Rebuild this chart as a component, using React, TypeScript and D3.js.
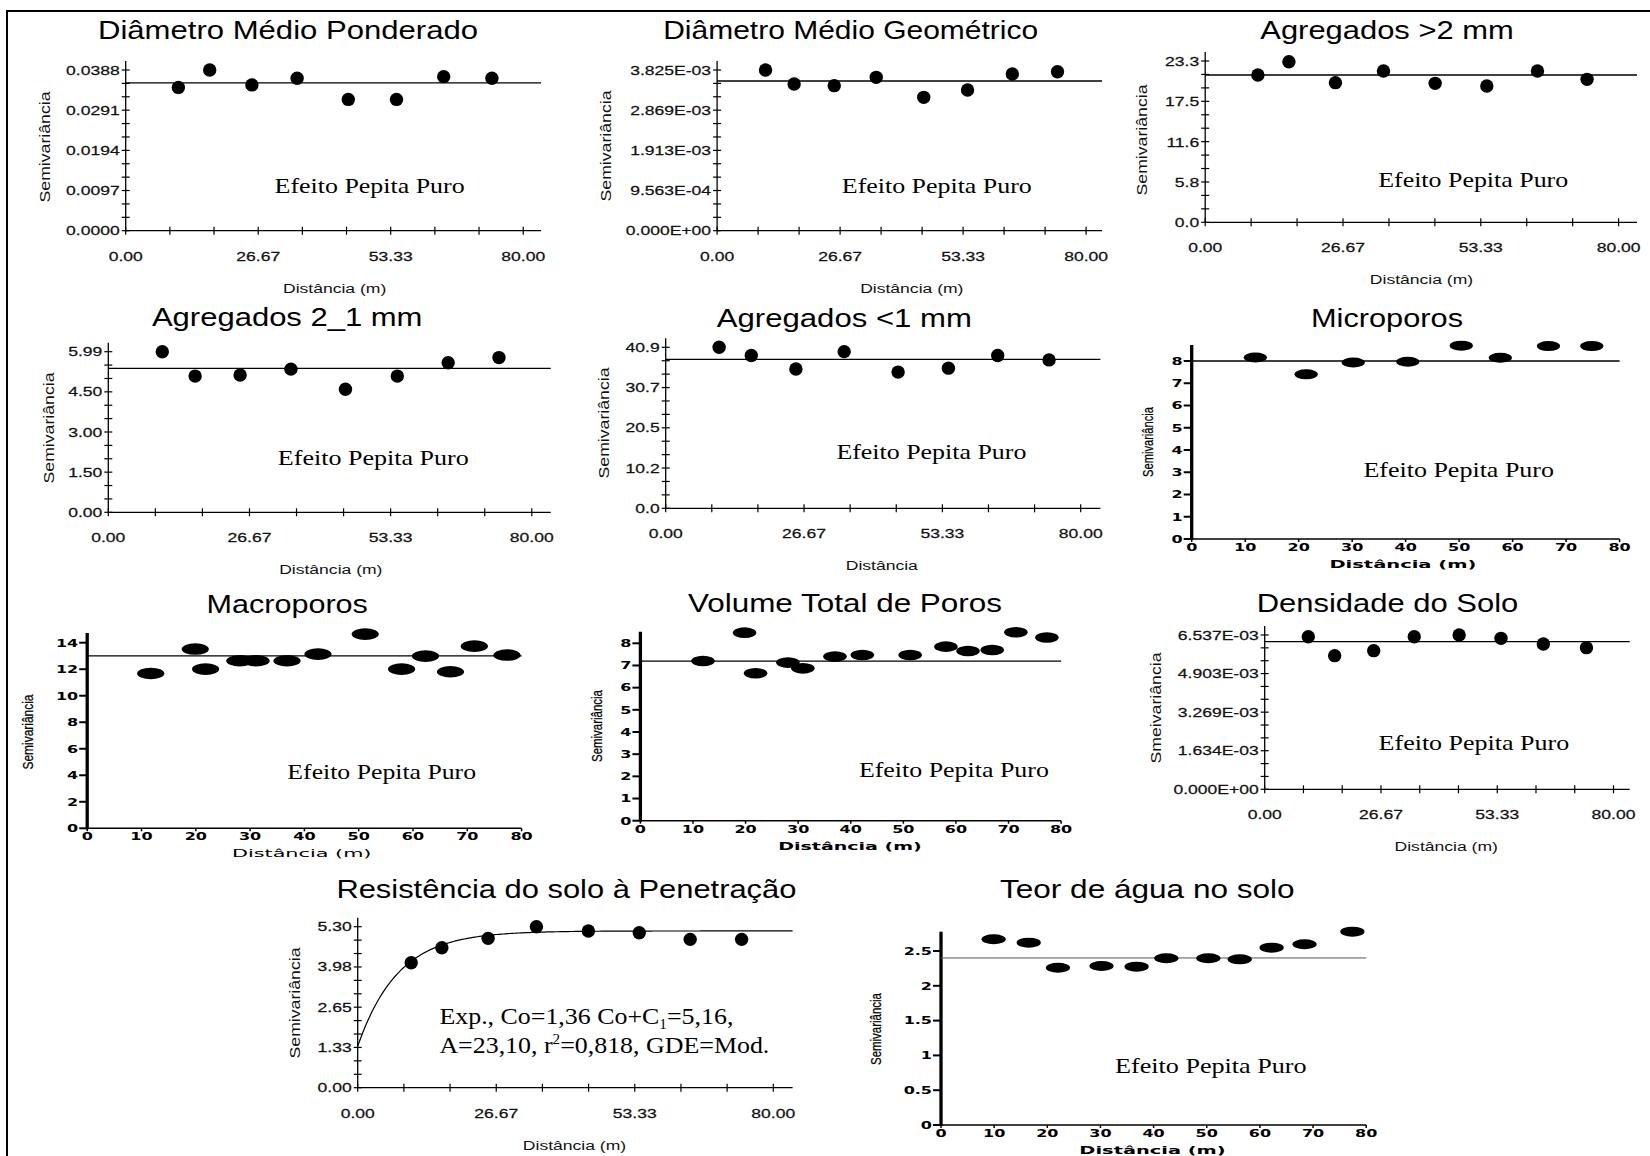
import React from "react";
import * as d3 from "d3";

// ---- data (lag in m, semivariance) ----
const xLabelsGs = ["0.00", "26.67", "53.33", "80.00"];
const xTicksPrism = [0, 10, 20, 30, 40, 50, 60, 70, 80];

const dmpLag = [10.6, 16.9, 25.4, 34.5, 44.8, 54.5, 64.0, 73.7];
const dmpGamma = [0.0346, 0.0388, 0.0352, 0.0368, 0.0317, 0.0317, 0.0372, 0.0368];
const dmpSill = 0.0357;
const dmpTicks = ["0.0000", "0.0097", "0.0194", "0.0291", "0.0388"];

const dmgLag = [10.5, 16.7, 25.4, 34.5, 44.8, 54.3, 64.0, 73.8];
const dmgGamma = [3.825e-3, 3.492e-3, 3.452e-3, 3.65e-3, 3.174e-3, 3.349e-3, 3.73e-3, 3.785e-3];
const dmgSill = 3.563e-3;
const dmgTicks = ["0.000E+00", "9.563E-04", "1.913E-03", "2.869E-03", "3.825E-03"];

const ag2Lag = [10.2, 16.2, 25.2, 34.5, 44.5, 54.5, 64.3, 73.9];
const ag2Gamma = [21.28, 23.2, 20.17, 21.86, 20.07, 19.69, 21.86, 20.65];
const ag2Sill = 21.28;
const ag2Ticks = ["0.0", "5.8", "11.6", "17.5", "23.3"];

const ag21Lag = [10.2, 16.4, 24.9, 34.5, 44.8, 54.6, 64.2, 73.8];
const ag21Gamma = [5.99, 5.08, 5.12, 5.34, 4.59, 5.08, 5.58, 5.77];
const ag21Sill = 5.37;
const ag21Ticks = ["0.00", "1.50", "3.00", "4.50", "5.99"];

const ag1Lag = [10.3, 16.5, 25.1, 34.4, 44.8, 54.5, 64.0, 73.9];
const ag1Gamma = [40.9, 38.8, 35.4, 39.8, 34.6, 35.6, 38.8, 37.7];
const ag1Sill = 37.85;
const ag1Ticks = ["0.0", "10.2", "20.5", "30.7", "40.9"];

const microLag = [11.9, 21.4, 30.2, 40.4, 50.4, 57.7, 66.7, 74.8];
const microGamma = [8.16, 7.4, 7.93, 7.97, 8.69, 8.15, 8.67, 8.67];
const microSill = 8.0;
const microTicks = ["0", "1", "2", "3", "4", "5", "6", "7", "8"];

const macroLag = [11.7, 19.9, 21.8, 28.1, 31.1, 36.8, 42.5, 51.2, 57.9, 62.3, 66.9, 71.3, 77.3];
const macroGamma = [11.68, 13.52, 12.01, 12.64, 12.64, 12.64, 13.14, 14.65, 12.01, 12.99, 11.81, 13.74, 13.07];
const macroSill = 13.0;
const macroTicks = ["0", "2", "4", "6", "8", "10", "12", "14"];

const vtpLag = [11.9, 19.8, 21.9, 28.05, 30.9, 37.0, 42.2, 51.3, 58.1, 62.3, 66.9, 71.4, 77.3];
const vtpGamma = [7.2, 8.48, 6.65, 7.13, 6.87, 7.4, 7.47, 7.47, 7.85, 7.65, 7.7, 8.5, 8.26];
const vtpSill = 7.2;
const vtpTicks = ["0", "1", "2", "3", "4", "5", "6", "7", "8"];

const dsLag = [10.0, 16.05, 25.0, 34.3, 44.6, 54.2, 63.9, 73.8];
const dsGamma = [6.466e-3, 5.662e-3, 5.873e-3, 6.466e-3, 6.537e-3, 6.396e-3, 6.156e-3, 6.001e-3];
const dsSill = 6.255e-3;
const dsTicks = ["0.000E+00", "1.634E-03", "3.269E-03", "4.903E-03", "6.537E-03"];

const rpLag = [10.3, 16.2, 25.1, 34.4, 44.4, 54.2, 64.0, 73.9];
const rpGamma = [4.115, 4.609, 4.916, 5.3, 5.157, 5.102, 4.883, 4.883];
const rpModel = { nugget: 1.36, sill: 5.16, range: 23.1 };
const rpTicks = ["0.00", "1.33", "2.65", "3.98", "5.30"];

const uLag = [9.9, 16.5, 22.0, 30.2, 36.8, 42.4, 50.3, 56.2, 62.2, 68.4, 77.4];
const uGamma = [2.668, 2.62, 2.26, 2.284, 2.275, 2.395, 2.395, 2.38, 2.548, 2.596, 2.778];
const uSill = 2.4;
const uTicks = ["0", "0.5", "1", "1.5", "2", "2.5"];

const SANS = "'Liberation Sans', Arial, sans-serif";
const SERIF = "'Liberation Serif', 'Times New Roman', serif";
const WIDE = "'DejaVu Sans', Verdana, sans-serif";

function T({ x, y, children, size = 13, sx = 1, anchor = "middle", family = SANS, weight = "normal", rot = 0, len, baseline, fill = "#000", stroke }: any) {
  return (
    <text
      transform={`translate(${x},${y}) rotate(${rot}) scale(${sx},1)`}
      fontSize={size}
      fontFamily={family}
      fontWeight={weight}
      textAnchor={anchor}
      textLength={len}
      lengthAdjust={len ? "spacingAndGlyphs" : undefined}
      dominantBaseline={baseline}
      fill={fill}
      stroke={stroke}
      strokeWidth={stroke ? 0.25 : undefined}
    >
      {children}
    </text>
  );
}

// GS+ style semivariogram
function GsPanel({ c }: any) {
  const x = d3.scaleLinear().domain([0, 80]).range([c.x0, c.x80]);
  const yMax = +c.ticks[c.ticks.length - 1];
  const y = d3.scaleLinear().domain([0, yMax]).range([c.y0, c.yTop]);
  const yMinor = d3.range(0, 13).map((i) => (yMax * i) / 12);
  const xMinor = d3.range(0, 10).map((i) => (80 * i) / 9);
  const hEnd = x.invert(c.xEnd);
  let curve = null;
  if (c.model) {
    const m = c.model;
    const hs = d3.range(0, 201).map((i) => (hEnd * i) / 200);
    const line = d3
      .line<number>()
      .x((h) => x(h))
      .y((h) => y(m.nugget + (m.sill - m.nugget) * (1 - Math.exp((-3 * h) / m.range))));
    curve = <path d={line(hs) || ""} fill="none" stroke="#000" strokeWidth={1.2} />;
  }
  return (
    <g>
      <T x={c.titleX} y={c.titleY} size={25} len={c.titleW}>{c.title}</T>
      <line x1={c.x0} x2={c.x0} y1={c.y0} y2={c.yTop - 9} stroke="#000" strokeWidth={1.3} />
      <line x1={c.x0} x2={c.xEnd} y1={c.y0} y2={c.y0} stroke="#000" strokeWidth={1.3} />
      {yMinor.map((v, i) => (
        <line key={"ym" + i} x1={c.x0 - 4} x2={c.x0 + 4} y1={y(v)} y2={y(v)} stroke="#000" strokeWidth={1.2} />
      ))}
      {xMinor.map((v, i) => (
        <line key={"xm" + i} x1={x(v)} x2={x(v)} y1={c.y0 - 4} y2={c.y0 + 4} stroke="#000" strokeWidth={1.2} />
      ))}
      {c.ticks.map((t: string) => (
        <T key={t} x={c.x0 - 6} y={y(+t) + 4.7} anchor="end" size={13.5} sx={1.3} fill="#111" stroke="#111">{t}</T>
      ))}
      {xLabelsGs.map((t) => (
        <T key={t} x={x(+t)} y={c.y0 + 30} size={13.5} sx={1.3} fill="#111" stroke="#111">{t}</T>
      ))}
      <T x={c.ylabX} y={c.ylabY} rot={-90} baseline="central" len={111} size={14} fill="#111">{c.ylab || "Semivariância"}</T>
      <T x={c.xlabX} y={c.y0 + 62} size={13.5} sx={1.3} fill="#111">{c.xlab || "Distância (m)"}</T>
      {c.sill !== undefined && (
        <line x1={c.x0} x2={c.xEnd} y1={y(c.sill)} y2={y(c.sill)} stroke="#000" strokeWidth={1.3} />
      )}
      {curve}
      {c.lag.map((h: number, i: number) => (
        <circle key={i} cx={x(h)} cy={y(c.gamma[i])} r={6.7} fill="#000" />
      ))}
      {c.efW && (
        <T x={c.efX} y={c.efY} size={22} family={SERIF} len={c.efW}>Efeito Pepita Puro</T>
      )}
    </g>
  );
}

// Prism style semivariogram
function PrismPanel({ c }: any) {
  const x = d3.scaleLinear().domain([0, 80]).range([c.x0, c.x80]);
  const top = +c.ticks[c.ticks.length - 1];
  const y = d3.scaleLinear().domain([0, top]).range([c.y0, c.yRef]);
  return (
    <g>
      <T x={c.titleX} y={c.titleY} size={26} len={c.titleW}>{c.title}</T>
      <line x1={c.x0} x2={c.x80} y1={c.y0} y2={c.y0} stroke="#000" strokeWidth={1.6} />
      {xTicksPrism.map((v) => (
        <line key={"xt" + v} x1={x(v)} x2={x(v)} y1={c.y0} y2={c.y0 + 3} stroke="#000" strokeWidth={1.5} />
      ))}
      {c.ticks.map((t: string) => (
        <g key={"yt" + t}>
          <line x1={c.x0 - 8} x2={c.x0} y1={y(+t)} y2={y(+t)} stroke="#000" strokeWidth={2} />
          <T x={c.x0 - 9} y={y(+t) + 3.8} anchor="end" size={10} sx={1.6} weight="bold" family={WIDE}>{t}</T>
        </g>
      ))}
      <line x1={c.x0} x2={c.x0} y1={c.y0 + 1} y2={c.axisTop} stroke="#000" strokeWidth={3.3} />
      {xTicksPrism.map((v) => (
        <T key={"xl" + v} x={x(v)} y={c.y0 + 12} size={10} sx={1.6} weight="bold" family={WIDE}>{String(v)}</T>
      ))}
      <T x={c.ylabX} y={c.ylabY} rot={-90} baseline="central" len={c.ylabW} size={15} stroke="#000">Semivariância</T>
      <T x={c.xlabX} y={c.y0 + 29} size={11} weight={c.xlabBold === false ? "normal" : "bold"} family={WIDE} len={c.xlabW}>Distância (m)</T>
      <line x1={c.x0} x2={c.x80} y1={y(c.sill)} y2={y(c.sill)} stroke={c.sillColor || "#000"} strokeWidth={c.sillW || 1.3} />
      {c.lag.map((h: number, i: number) => (
        <ellipse key={i} cx={x(h)} cy={y(c.gamma[i])} rx={c.rx} ry={c.ry} fill="#000" />
      ))}
      <T x={c.efX} y={c.efY} size={22} family={SERIF} len={c.efW}>Efeito Pepita Puro</T>
    </g>
  );
}

const gsPanels = [
  { title: "Diâmetro Médio Ponderado", titleX: 288, titleY: 38.5, titleW: 380, x0: 125.7, x80: 523.2, xEnd: 541, yTop: 70, y0: 230.7, ticks: dmpTicks, lag: dmpLag, gamma: dmpGamma, sill: dmpSill, efX: 369.6, efY: 193, efW: 190, ylabX: 44.6, ylabY: 147, xlabX: 334.6 },
  { title: "Diâmetro Médio Geométrico", titleX: 850.7, titleY: 38.5, titleW: 375, x0: 717.1, x80: 1086.1, xEnd: 1102, yTop: 70, y0: 230.7, ticks: dmgTicks, lag: dmgLag, gamma: dmgGamma, sill: dmgSill, efX: 936.8, efY: 193, efW: 190, ylabX: 605.7, ylabY: 146, xlabX: 911.8 },
  { title: "Agregados >2 mm", titleX: 1387, titleY: 39, titleW: 253.5, x0: 1205.2, x80: 1618.6, xEnd: 1637, yTop: 61, y0: 222.3, ticks: ag2Ticks, lag: ag2Lag, gamma: ag2Gamma, sill: ag2Sill, efX: 1473.2, efY: 187, efW: 190, ylabX: 1142, ylabY: 140, xlabX: 1421.5 },
  { title: "Agregados 2_1 mm", titleX: 287.2, titleY: 325.5, titleW: 270.5, x0: 108.3, x80: 531.8, xEnd: 550.7, yTop: 351.7, y0: 512.3, ticks: ag21Ticks, lag: ag21Lag, gamma: ag21Gamma, sill: ag21Sill, efX: 373.3, efY: 465, efW: 191, ylabX: 49.1, ylabY: 428, xlabX: 330.8 },
  { title: "Agregados <1 mm", titleX: 844.3, titleY: 327, titleW: 255, x0: 665.7, x80: 1080.7, xEnd: 1100.4, yTop: 347.3, y0: 508.3, ticks: ag1Ticks, lag: ag1Lag, gamma: ag1Gamma, sill: ag1Sill, efX: 931.4, efY: 459, efW: 190, ylabX: 603.9, ylabY: 423, xlabX: 881.8, xlab: "Distância" },
  { title: "Densidade do Solo", titleX: 1387.5, titleY: 612, titleW: 261.6, x0: 1264.7, x80: 1613.5, xEnd: 1629.7, yTop: 635, y0: 789.3, ticks: dsTicks, lag: dsLag, gamma: dsGamma, sill: dsSill, efX: 1473.9, efY: 750, efW: 190.6, ylabX: 1155.5, ylabY: 708, ylab: "Smeivariância", xlabX: 1446.2 },
  { title: "Resistência do solo à Penetração", titleX: 566.4, titleY: 898, titleW: 460, x0: 357.7, x80: 773.3, xEnd: 792.6, yTop: 926.7, y0: 1087.7, ticks: rpTicks, lag: rpLag, gamma: rpGamma, model: rpModel, ylabX: 294.6, ylabY: 1003, xlabX: 574.5 },
];

const prismPanels = [
  { title: "Microporos", titleX: 1387, titleY: 327, titleW: 152, x0: 1191.7, x80: 1619.6, y0: 539, yRef: 361, axisTop: 345, ticks: microTicks, lag: microLag, gamma: microGamma, sill: microSill, efX: 1458.7, efY: 477, efW: 190.6, ylabX: 1147, ylabY: 442, ylabW: 70, xlabX: 1402.9, xlabW: 147, rx: 11.7, ry: 5 },
  { title: "Macroporos", titleX: 287.2, titleY: 613, titleW: 161.4, x0: 87.2, x80: 521.6, y0: 828.3, yRef: 642.7, axisTop: 633, ticks: macroTicks, lag: macroLag, gamma: macroGamma, sill: macroSill, efX: 381.7, efY: 779, efW: 188.7, ylabX: 27.3, ylabY: 732, ylabW: 75, xlabX: 301.7, xlabW: 139.6, xlabBold: false, rx: 13.6, ry: 5.8 },
  { title: "Volume Total de Poros", titleX: 845, titleY: 612, titleW: 314, x0: 640.4, x80: 1061.1, y0: 820.7, yRef: 643.3, axisTop: 631.7, ticks: vtpTicks, lag: vtpLag, gamma: vtpGamma, sill: vtpSill, efX: 953.9, efY: 777, efW: 190, ylabX: 596.8, ylabY: 726, ylabW: 72, xlabX: 850, xlabW: 143.6, rx: 11.8, ry: 5.3 },
  { title: "Teor de água no solo", titleX: 1147.3, titleY: 898, titleW: 294.6, x0: 941, x80: 1366.2, y0: 1125, yRef: 951, axisTop: 931.7, ticks: uTicks, lag: uLag, gamma: uGamma, sill: uSill, efX: 1210.8, efY: 1073, efW: 191.5, ylabX: 875, ylabY: 1029, ylabW: 72, xlabX: 1152.5, xlabW: 146.3, rx: 12.1, ry: 5, sillColor: "#555", sillW: 1 },
];

export default function App() {
  return (
    <svg
      width={1650}
      height={1156}
      style={{ position: "absolute", left: 0, top: 0, display: "block", background: "#fff" }}
    >
      <rect x={0} y={0} width={1650} height={1156} fill="#fff" />
      <line x1={7} x2={1650} y1={11} y2={11} stroke="#000" strokeWidth={2} />
      <line x1={7} x2={7} y1={10} y2={1156} stroke="#000" strokeWidth={2} />
      {gsPanels.map((c) => (
        <GsPanel key={c.title} c={c} />
      ))}
      {prismPanels.map((c) => (
        <PrismPanel key={c.title} c={c} />
      ))}
      {/* model annotation for the penetration resistance semivariogram */}
      <text transform="translate(439.4,1024) scale(1.08,1)" fontFamily={SERIF} fontSize={24}>
        Exp., Co=1,36 Co+C<tspan fontSize={14} dy={5}>1</tspan>
        <tspan dy={-5}>=5,16,</tspan>
      </text>
      <text transform="translate(439.4,1053) scale(1.08,1)" fontFamily={SERIF} fontSize={24}>
        A=23,10, r<tspan fontSize={14} dy={-9}>2</tspan>
        <tspan dy={9}>=0,818, GDE=Mod.</tspan>
      </text>
    </svg>
  );
}
